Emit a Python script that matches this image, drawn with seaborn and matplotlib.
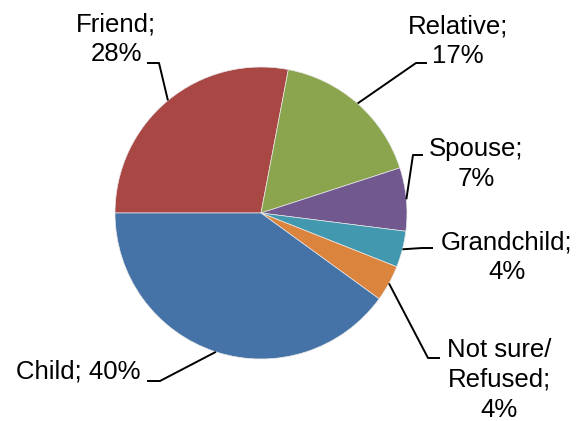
import numpy as np
import matplotlib
matplotlib.use("Agg")
import matplotlib.pyplot as plt
import seaborn as sns

# Who the respondent relies on: share of answers
categories = ["Friend", "Relative", "Spouse", "Grandchild", "Not sure/\nRefused", "Child"]
shares = [28, 17, 7, 4, 4, 40]
colors = ["#A84744", "#8AA54E", "#71588F", "#4298AF", "#DB843D", "#4572A7"]

sns.set_theme(style="white")
plt.rcParams["font.family"] = ["Liberation Sans", "DejaVu Sans"]

W, H = 584, 421
fig = plt.figure(figsize=(W / 100, H / 100), dpi=100)

# pie geometry in pixels
cx, cy, r = 261, 213, 146
ax = fig.add_axes([(cx - r) / W, (H - cy - r) / H, 2 * r / W, 2 * r / H])

wedges, _ = ax.pie(
    shares, colors=colors, startangle=180, counterclock=False, radius=1,
    wedgeprops=dict(edgecolor="#e8e8e8", linewidth=0.5),
)
ax.set_xlim(-1, 1)
ax.set_ylim(-1, 1)
ax.set_aspect("equal")
ax.axis("off")


def to_data(px, py):
    return (px - cx) / r, (cy - py) / r


# label centre, end of horizontal leader, elbow (pixels)
layout = {
    "Friend": ((116, 39), (147, 63), (159, 63)),
    "Relative": ((458, 41), (427, 63), (416, 63)),
    "Spouse": ((476, 164), (423, 155), (413, 155)),
    "Grandchild": ((507, 257), (433, 248), (422, 248)),
    "Not sure/\nRefused": ((499, 380), (440, 358), (428, 358)),
    "Child": ((78, 372), (147, 381), (160, 381)),
}

for w, cat, val in zip(wedges, categories, shares):
    mid = np.deg2rad((w.theta1 + w.theta2) / 2)
    ex, ey = np.cos(mid), np.sin(mid)
    (tx, ty), (hx, hy), (bx, by) = layout[cat]
    p_end = to_data(hx, hy)
    p_elb = to_data(bx, by)
    ax.plot([p_end[0], p_elb[0], ex], [p_end[1], p_elb[1], ey],
            color="black", lw=1.4, clip_on=False, solid_capstyle="butt")
    if cat == "Child":
        txt = f"{cat}; {val}%"
    else:
        txt = f"{cat};\n{val}%"
    lx, ly = to_data(tx, ty)
    ax.text(lx, ly, txt, ha="center", va="center", fontsize=18.5,
            color="black", linespacing=1.3, clip_on=False)

fig.savefig("out.png", dpi=100, facecolor="white")
